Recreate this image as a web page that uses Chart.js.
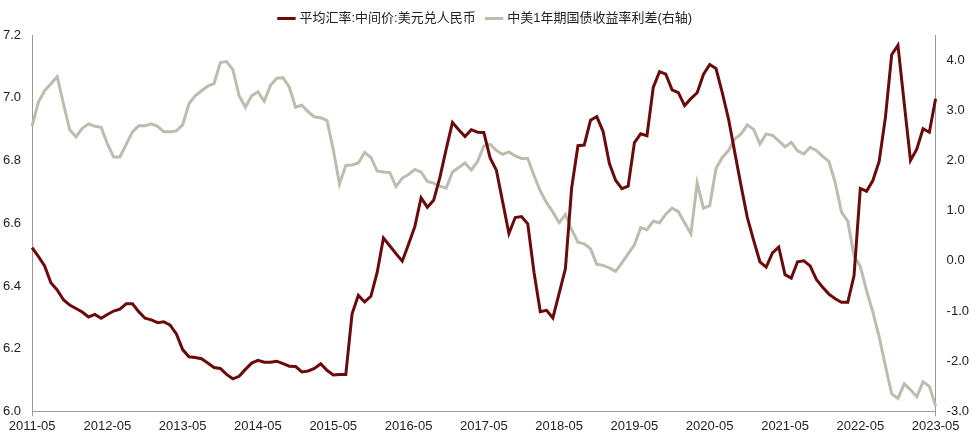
<!DOCTYPE html>
<html><head><meta charset="utf-8">
<script src="https://cdn.jsdelivr.net/npm/chart.js@4"></script>
<style>html,body{margin:0;padding:0;background:#fff}#w{width:980px;height:436px}</style>
</head><body><div id="w"><canvas id="c"></canvas></div>
<script>
const startYear = 2011, startMonth = 5, monthCount = 145;
const fxRate = [
6.522,6.494,6.464,6.41,6.387,6.356,6.339,6.328,6.317,6.301,
6.309,6.297,6.309,6.32,6.326,6.343,6.343,6.318,6.297,6.292,
6.283,6.286,6.275,6.247,6.197,6.174,6.172,6.168,6.154,6.14,
6.137,6.118,6.104,6.112,6.134,6.154,6.163,6.157,6.157,6.16,
6.152,6.144,6.143,6.126,6.129,6.137,6.152,6.131,6.116,6.118,
6.118,6.311,6.37,6.349,6.367,6.443,6.553,6.528,6.503,6.479,
6.533,6.589,6.681,6.651,6.673,6.746,6.836,6.921,6.898,6.876,
6.898,6.89,6.889,6.808,6.769,6.668,6.567,6.618,6.621,6.598,
6.443,6.318,6.322,6.298,6.376,6.455,6.713,6.847,6.849,6.928,
6.94,6.893,6.791,6.737,6.71,6.718,6.857,6.885,6.879,7.033,
7.083,7.075,7.025,7.016,6.975,6.997,7.016,7.074,7.106,7.093,
7.016,6.932,6.825,6.719,6.618,6.545,6.477,6.46,6.505,6.524,
6.436,6.425,6.477,6.48,6.464,6.421,6.396,6.374,6.359,6.348,
6.348,6.432,6.711,6.702,6.736,6.797,6.937,7.137,7.167,6.982,
6.8,6.836,6.901,6.89,6.997];
const spread = [
2.68,3.16,3.39,3.53,3.67,3.13,2.61,2.47,2.64,2.73,
2.68,2.66,2.33,2.07,2.07,2.32,2.57,2.69,2.69,2.73,
2.68,2.57,2.57,2.59,2.71,3.13,3.29,3.39,3.48,3.53,
3.95,3.97,3.81,3.29,3.06,3.29,3.37,3.18,3.50,3.64,
3.65,3.46,3.06,3.10,2.97,2.87,2.85,2.80,2.22,1.53,
1.90,1.91,1.95,2.16,2.06,1.79,1.77,1.76,1.48,1.65,
1.72,1.82,1.77,1.58,1.55,1.49,1.45,1.77,1.86,1.95,
1.81,1.98,2.29,2.32,2.20,2.12,2.17,2.09,2.04,2.04,
1.70,1.39,1.16,0.97,0.76,0.92,0.62,0.37,0.34,0.24,
-0.07,-0.09,-0.14,-0.21,-0.04,0.14,0.32,0.66,0.62,0.79,
0.76,0.93,1.05,0.98,0.76,0.54,1.55,1.05,1.10,1.84,
2.06,2.20,2.43,2.53,2.71,2.62,2.33,2.53,2.50,2.39,
2.27,2.36,2.19,2.13,2.26,2.20,2.08,1.98,1.56,0.97,
0.79,0.10,-0.11,-0.60,-1.02,-1.51,-2.09,-2.65,-2.74,-2.45,
-2.57,-2.71,-2.41,-2.50,-2.89];
const labels = [];
for (let i = 0; i < monthCount; i++) {
  const m0 = startMonth - 1 + i;
  const y = startYear + Math.floor(m0 / 12), m = m0 % 12 + 1;
  labels.push(y + '-' + String(m).padStart(2, '0'));
}
const seriesNames = ['平均汇率:中间价:美元兑人民币', '中美1年期国债收益率利差(右轴)'];
const font = {family: 'Arial, "Liberation Sans", "Noto Sans CJK SC", sans-serif', size: 13};
new Chart(document.getElementById('c'), {
  type: 'line',
  data: {labels, datasets: [
    {label: seriesNames[0], data: fxRate, yAxisID: 'y', borderColor: '#6B0A0A', backgroundColor: '#6B0A0A', borderWidth: 3, pointRadius: 0, tension: 0},
    {label: seriesNames[1], data: spread, yAxisID: 'y1', borderColor: '#BDBCAD', backgroundColor: '#BDBCAD', borderWidth: 3, pointRadius: 0, tension: 0}
  ]},
  options: {
    responsive: true, maintainAspectRatio: false, animation: false,
    layout: {padding: {left: 0, right: 8, top: 0, bottom: 0}},
    plugins: {
      tooltip: {enabled: false},
      legend: {position: 'top', labels: {font, color: '#222', usePointStyle: true, pointStyle: 'line', boxWidth: 30, padding: 12}}
    },
    scales: {
      x: {
        offset: false,
        grid: {drawOnChartArea: false, drawTicks: true, tickLength: 5, color: (c) => (c.index % 12 === 0 ? '#999' : 'rgba(0,0,0,0)')},
        border: {color: '#999'},
        ticks: {autoSkip: false, maxRotation: 0, font, color: '#222', padding: 2,
          callback: (v, i) => (i % 12 === 0 ? labels[i] : null)}
      },
      y: {
        position: 'left', min: 6.0, max: 7.2,
        grid: {display: false, drawTicks: true},
        border: {color: '#999'},
        ticks: {stepSize: 0.2, font, color: '#222', callback: v => v.toFixed(1)}
      },
      y1: {
        position: 'right', min: -3, max: 4.5,
        grid: {display: false},
        border: {color: '#999'},
        afterBuildTicks: (s) => { s.ticks = s.ticks.filter(t => Number.isInteger(Math.round(t.value * 1000) / 1000)); },
        ticks: {stepSize: 1, font, color: '#222', callback: v => v.toFixed(1)}
      }
    }
  }
});
</script></body></html>
